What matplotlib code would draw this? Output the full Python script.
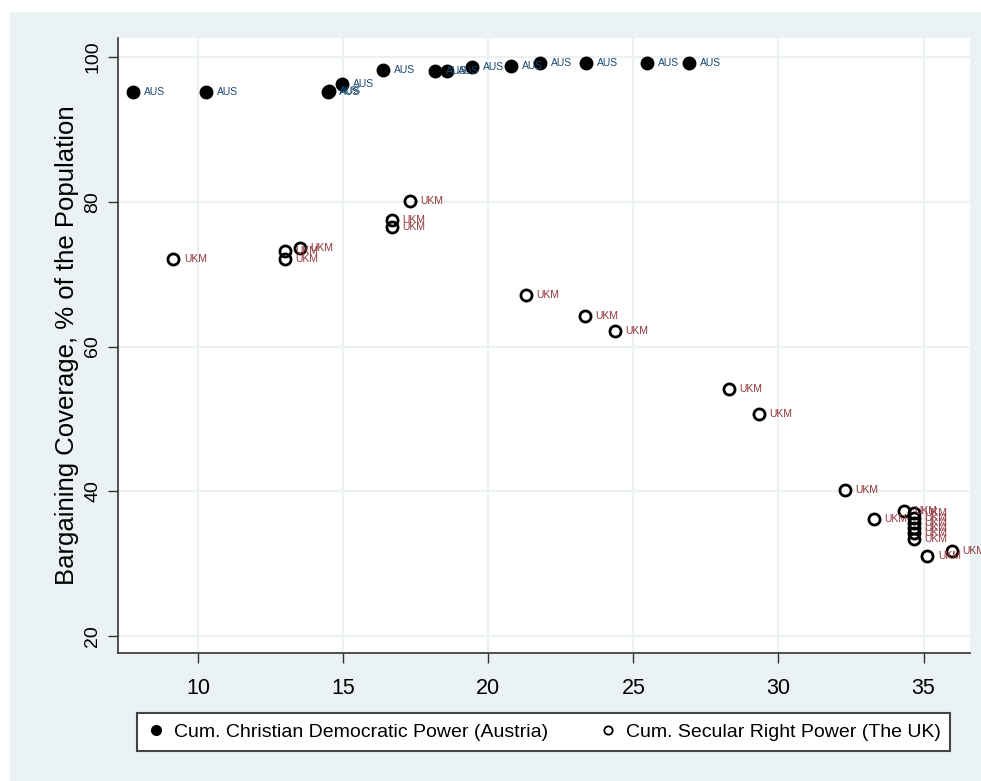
import matplotlib
matplotlib.use('Agg')
import matplotlib.pyplot as plt
from matplotlib.patches import Rectangle
from matplotlib.lines import Line2D

plt.rcParams['font.family'] = ['Liberation Sans', 'DejaVu Sans']

# Austria: cumulative Christian Democratic power vs bargaining coverage
aus_x = [7.76, 10.28, 14.47, 14.52, 14.97, 16.38, 18.15, 18.57, 19.44, 20.79, 21.77, 23.36, 25.47, 26.91]
aus_y = [95.1, 95.1, 95.1, 95.3, 96.2, 98.2, 98.1, 98.1, 98.6, 98.8, 99.1, 99.1, 99.1, 99.1]
aus_lab = 'AUS'

# UK: cumulative secular right power vs bargaining coverage
uk_x = [9.15, 13.0, 13.0, 13.52, 16.68, 16.68, 17.31, 21.31, 23.34, 24.36, 28.29, 29.32,
        32.28, 33.28, 34.31, 34.66, 34.66, 34.66, 34.66, 34.66, 34.66, 35.13, 35.99]
uk_y = [72.1, 73.2, 72.1, 73.6, 77.5, 76.5, 80.1, 67.1, 64.2, 62.1, 54.2, 50.7,
        40.2, 36.2, 37.3, 37.0, 36.3, 35.6, 34.9, 34.2, 33.4, 31.1, 31.8]
uk_lab = 'UKM'

x_ticks = [10, 15, 20, 25, 30, 35]
y_ticks = [20, 40, 60, 80, 100]
legend_labels = ['Cum. Christian Democratic Power (Austria)', 'Cum. Secular Right Power (The UK)']

W, H = 981, 781
fig = plt.figure(figsize=(W / 100, H / 100), dpi=100)
fig.patch.set_facecolor('white')
fig.add_artist(Rectangle((10 / W, 0), 1, 1 - 12 / H, transform=fig.transFigure,
                         facecolor='#eaf2f3', edgecolor='none', zorder=-10))

ax = fig.add_axes([118 / W, 1 - 653 / H, (970 - 118) / W, (653 - 38) / H])
ax.set_facecolor('white')
ax.set_xlim(7.24, 36.6)
ax.set_ylim(17.7, 102.6)

for s in ['top', 'right']:
    ax.spines[s].set_visible(False)
for s in ['left', 'bottom']:
    ax.spines[s].set_color('#333333')
    ax.spines[s].set_linewidth(1.2)

ax.set_xticks(x_ticks)
ax.set_yticks(y_ticks)
ax.set_yticklabels([str(v) for v in y_ticks], rotation=90, va='center')
ax.tick_params(axis='x', length=7, width=1, color='#333333', labelsize=15.5, pad=11)
ax.tick_params(axis='y', length=7, width=1, color='#333333', labelsize=14, pad=5)
ax.grid(True, color='#eaf2f3', linewidth=1.6)
ax.set_axisbelow(True)

ax.set_ylabel('Bargaining Coverage, % of the Population', fontsize=18.5, labelpad=4)

ax.plot(aus_x, aus_y, 'o', color='black', markersize=9, zorder=3)
ax.plot(uk_x, uk_y, 'o', markerfacecolor='none', markeredgecolor='black',
        markersize=8, markeredgewidth=2, zorder=3)

for x, y in zip(aus_x, aus_y):
    ax.annotate(aus_lab, (x, y), xytext=(8, 0), textcoords='offset points',
                fontsize=7.5, color='#1a476f', va='center', ha='left', zorder=4)
for x, y in zip(uk_x, uk_y):
    ax.annotate(uk_lab, (x, y), xytext=(7.5, 0), textcoords='offset points',
                fontsize=7.5, color='#90353b', va='center', ha='left', zorder=4)

handles = [
    Line2D([], [], linestyle='none', marker='o', color='black', markersize=7),
    Line2D([], [], linestyle='none', marker='o', markerfacecolor='none',
           markeredgecolor='black', markersize=6, markeredgewidth=1.3),
]
leg = fig.legend(handles, legend_labels, ncol=2, loc='center',
                 bbox_to_anchor=(127 / W, 1 - 752 / H, 833 / W, 40 / H),
                 bbox_transform=fig.transFigure, mode='expand',
                 fontsize=14, frameon=True, fancybox=False, framealpha=1,
                 handletextpad=0.4, borderpad=0.5, handlelength=1.0)
leg.get_frame().set_facecolor('white')
leg.get_frame().set_edgecolor('#444444')
leg.get_frame().set_linewidth(1.5)

fig.savefig('out.png', dpi=100)
